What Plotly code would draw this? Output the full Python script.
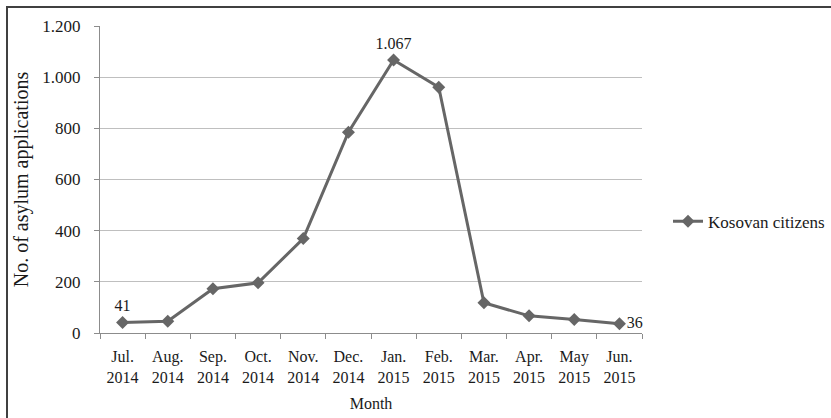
import plotly.graph_objects as go

months = ["Jul.<br>2014", "Aug.<br>2014", "Sep.<br>2014", "Oct.<br>2014", "Nov.<br>2014",
          "Dec.<br>2014", "Jan.<br>2015", "Feb.<br>2015", "Mar.<br>2015", "Apr.<br>2015",
          "May<br>2015", "Jun.<br>2015"]
applications = [41, 46, 173, 196, 369, 785, 1067, 961, 118, 67, 53, 36]
labels = ["41", "", "", "", "", "", "1.067", "", "", "", "", "36"]
label_pos = ["top center"] * 11 + ["middle right"]

W, H = 831, 418
L, R, T, B = 100, 189, 26, 84.5
pw, ph = W - L - R, H - T - B

def px_x(px):
    return (px - L) / pw

def px_y(py):
    return (H - B - py) / ph

font_family = "Liberation Serif, DejaVu Serif, serif"
line_color = "#666666"
text_color = "#1a1a1a"

fig = go.Figure()
fig.add_trace(go.Scatter(
    x=months, y=applications, mode="lines+markers+text",
    name="Kosovan citizens",
    line=dict(color=line_color, width=3),
    marker=dict(symbol="diamond", size=10, color=line_color),
    text=labels, textposition=label_pos,
    textfont=dict(family=font_family, size=16, color=text_color),
    cliponaxis=False,
))

fig.update_layout(
    width=W, height=H,
    margin=dict(l=L, r=R, t=T, b=B, autoexpand=False),
    paper_bgcolor="white", plot_bgcolor="white",
    separators=",.",
    font=dict(family=font_family, size=16, color=text_color),
    showlegend=True,
    legend=dict(x=px_x(668), y=px_y(222), xanchor="left", yanchor="middle",
                font=dict(family=font_family, size=17, color=text_color),
                bgcolor="rgba(0,0,0,0)", itemwidth=30),
    xaxis=dict(
        type="category", showgrid=False, showline=True, linecolor="#8c8c8c", linewidth=1,
        ticks="outside", ticklen=5, tickcolor="#8c8c8c", tickson="boundaries",
        tickfont=dict(size=16), ticklabelstandoff=9, automargin=False,
        title=dict(text="Month", font=dict(size=16), standoff=12),
        range=[-0.5, 11.5],
    ),
    yaxis=dict(
        range=[0, 1200], tickvals=[0, 200, 400, 600, 800, 1000, 1200], tickformat=",d",
        showgrid=True, gridcolor="#bfbfbf", gridwidth=1,
        showline=True, linecolor="#8c8c8c", linewidth=1,
        ticks="outside", ticklen=5, tickcolor="#8c8c8c",
        tickfont=dict(size=17), ticklabelstandoff=10, automargin=False,
        zeroline=False,
        title=dict(text="No. of asylum applications", font=dict(size=20), standoff=8),
    ),
    shapes=[dict(type="rect", xref="paper", yref="paper",
                 x0=px_x(7), x1=px_x(840), y0=px_y(430), y1=px_y(7),
                 line=dict(color="#404040", width=2), fillcolor="rgba(0,0,0,0)")],
)

fig.write_html("out.html", config={"displayModeBar": False},
               post_script="document.body.style.margin='0px';")
